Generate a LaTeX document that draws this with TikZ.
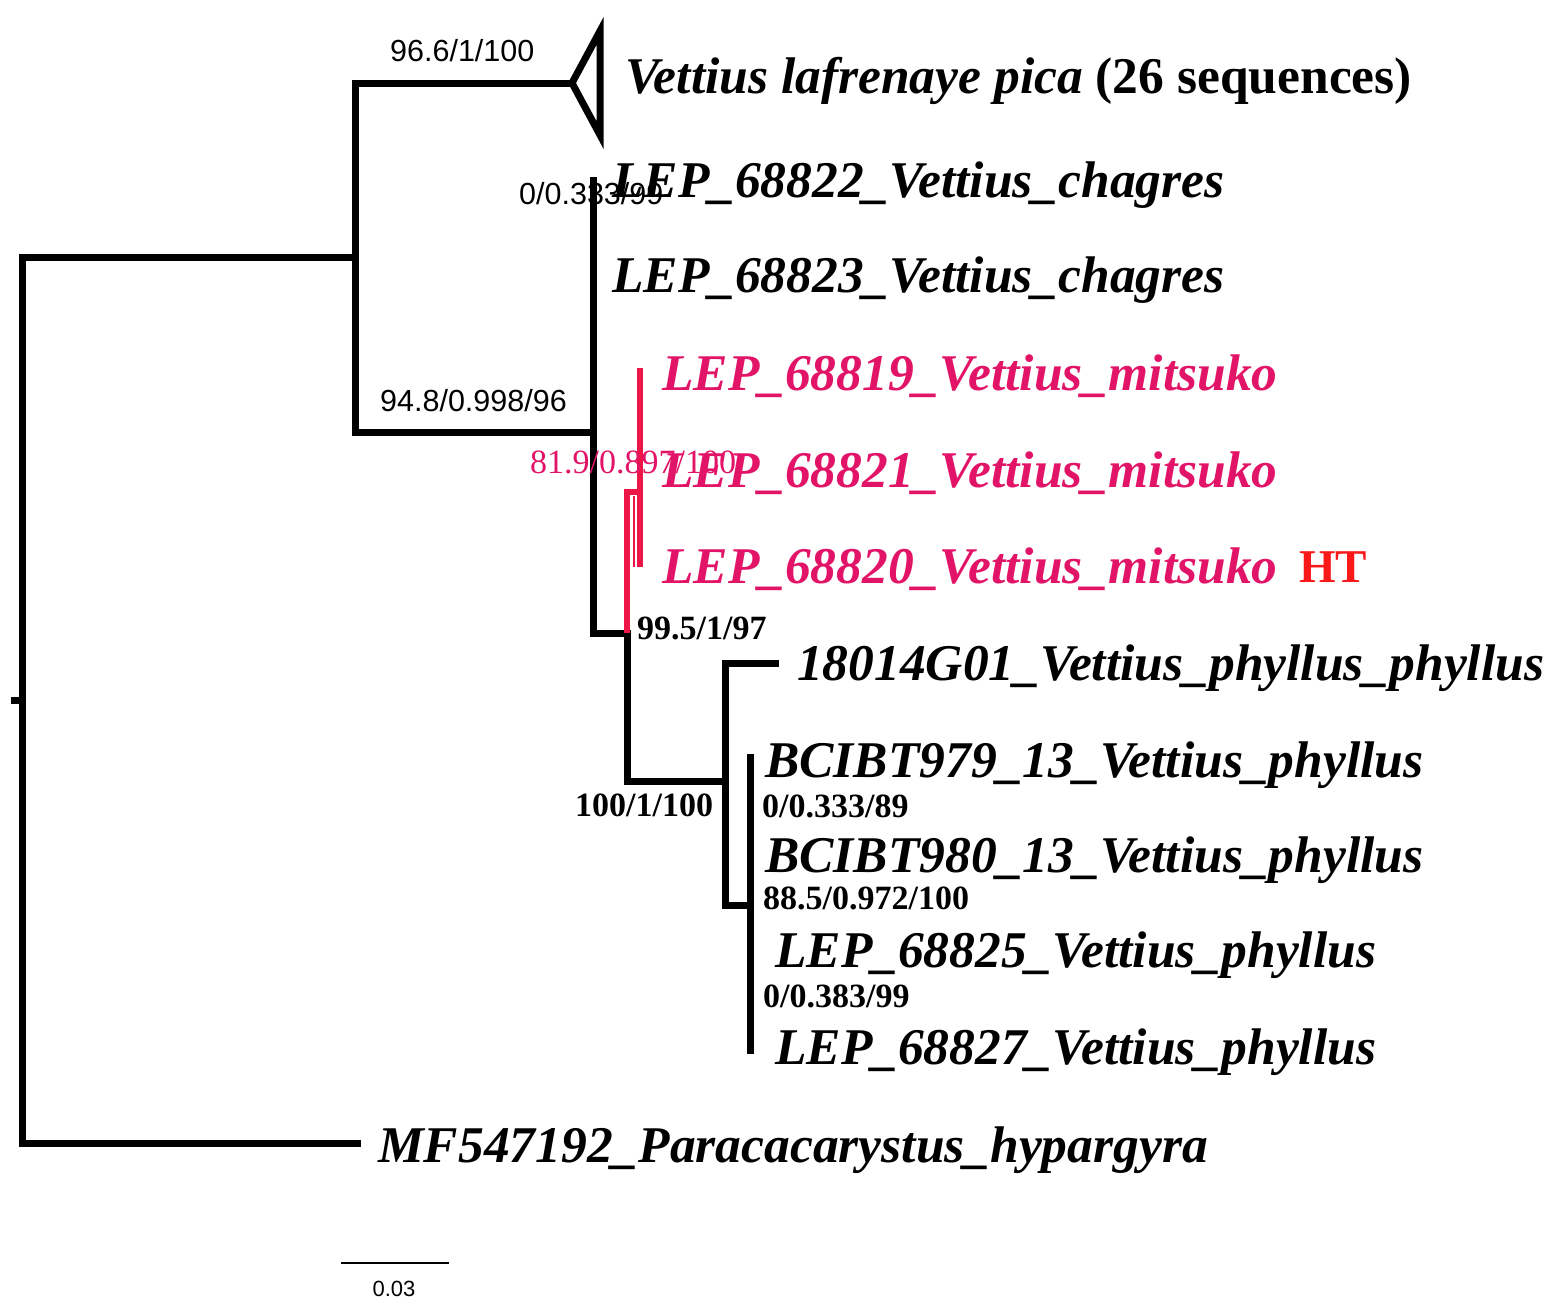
\documentclass[tikz,border=0pt]{standalone}
\usepackage{fontspec}
\setmainfont{Liberation Serif}
\newfontfamily\labsans{Liberation Sans}
\definecolor{mitsu}{RGB}{226,20,104}
\definecolor{mitsuline}{RGB}{238,22,70}
\definecolor{htred}{RGB}{250,24,24}
\tikzset{
  br/.style={line width=7pt, line cap=rect, line join=miter},
  brred/.style={line width=6pt, color=mitsuline},
  taxon/.style={anchor=base west, inner sep=0pt, font=\fontsize{51.5}{55}\selectfont\bfseries\itshape},
  taxonm/.style={taxon, text=mitsu},
  suppS/.style={anchor=base west, inner sep=0pt, font=\labsans\fontsize{30.5}{33}\selectfont},
  suppT/.style={anchor=base west, inner sep=0pt, font=\fontsize{34}{36}\selectfont\bfseries},
}
\begin{document}
\begin{tikzpicture}[x=1pt,y=-1pt]
\useasboundingbox (0,0) rectangle (1554,1301);
% tree node coordinates
\coordinate (root) at (22,700);
\coordinate (tick) at (14,700);
\coordinate (nA) at (355,257);
\coordinate (tOut) at (357,1143);
\coordinate (tri) at (572,83);
\coordinate (triT) at (600,31);
\coordinate (triB) at (600,135);
\coordinate (nB) at (593,432);
\coordinate (t822) at (593,180);
\coordinate (nC) at (627,633);
\coordinate (nD) at (627,492);
\coordinate (nE) at (640,492);
\coordinate (t819) at (640,368);
\coordinate (t820) at (640,567);
\coordinate (nEi) at (634,496);
\coordinate (t820i) at (634,567);
\coordinate (nF) at (725,781);
\coordinate (t014) at (775,663);
\coordinate (nG) at (750,905);
\coordinate (t979) at (750,757);
\coordinate (t827) at (750,1050);
% branches
\draw[br] (tick) -- (root);
\draw[br] (root) |- (nA);
\draw[br] (root) |- (tOut);
\draw[br] (nA) |- (tri);
\draw[br] (nA) |- (nB);
\draw[br] (nB) |- (t822);
\draw[br] (nB) |- (nC);
\draw[br] (nC) |- (nF);
\draw[br] (nF) |- (t014);
\draw[br] (nF) |- (nG);
\draw[br] (nG) |- (t979);
\draw[br] (nG) |- (t827);
\draw[line width=7pt, line join=miter] (tri) -- (triT) -- (triB) -- cycle;
\draw[brred] (nC) -- (nD) -- (nE);
\draw[brred] (t819) -- (t820);
\draw[line width=2.5pt, color=mitsuline] (nEi) -- (t820i);
% taxa
\node[taxon] (lafr) at (625,93) {Vettius lafrenaye pica \upshape(26 sequences)};
\node[taxon] (L822) at (612,197) {LEP\_68822\_Vettius\_chagres};
\node[taxon] (L823) at (612,292) {LEP\_68823\_Vettius\_chagres};
\node[taxonm] (L819) at (662,390) {LEP\_68819\_Vettius\_mitsuko};
\node[taxonm] (L821) at (662,487) {LEP\_68821\_Vettius\_mitsuko};
\node[taxonm] (L820) at (662,583) {LEP\_68820\_Vettius\_mitsuko};
\node[anchor=base west, inner sep=0pt, text=htred, font=\fontsize{47}{50}\selectfont\bfseries] (HT) at (1299,582) {HT};
\node[taxon] (G01) at (797,680) {18014G01\_Vettius\_phyllus\_phyllus};
\node[taxon] (B979) at (765,777) {BCIBT979\_13\_Vettius\_phyllus};
\node[taxon] (B980) at (765,872) {BCIBT980\_13\_Vettius\_phyllus};
\node[taxon] (L825) at (775,967) {LEP\_68825\_Vettius\_phyllus};
\node[taxon] (L827) at (775,1064) {LEP\_68827\_Vettius\_phyllus};
\node[taxon] (MF) at (378,1162) {MF547192\_Paracacarystus\_hypargyra};
% support values
\node[suppS] (s1) at (390,61) {96.6/1/100};
\node[suppS] (s2) at (380,411) {94.8/0.998/96};
\node[suppS] (s3) at (519,204) {0/0.333/99};
\node[suppT, text=mitsu, font=\fontsize{34}{36}\selectfont] (s4) at (530,473) {81.9/0.897/100};
\node[suppT] (s5) at (637,639) {99.5/1/97};
\node[suppT] (s6) at (575,816) {100/1/100};
\node[suppT] (s7) at (762,817) {0/0.333/89};
\node[suppT] (s8) at (763,909) {88.5/0.972/100};
\node[suppT] (s9) at (763,1007) {0/0.383/99};
% scale bar
\coordinate (sb1) at (341,1263);
\coordinate (sb2) at (449,1263);
\draw[line width=2.5pt] (sb1) -- (sb2);
\node[anchor=base, inner sep=0pt, font=\labsans\fontsize{22}{24}\selectfont] (sbl) at (394,1296) {0.03};
\end{tikzpicture}
\end{document}
